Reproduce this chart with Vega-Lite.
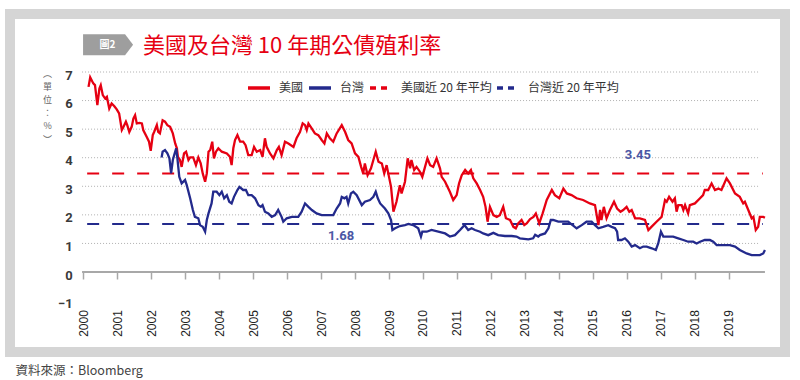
{
  "$schema": "https://vega.github.io/schema/vega-lite/v6.json",
  "width": 775,
  "height": 338,
  "autosize": {"type": "none"},
  "padding": {"left": 10, "top": 14, "right": 15, "bottom": 28},
  "background": "white",
  "config": {
    "font": "Noto Sans CJK TC",
    "view": {"fill": "white", "stroke": "#d5d5d5", "strokeWidth": 10}
  },
  "datasets": {
    "us": [
      {"year":2000.16,"rate":6.48},{"year":2000.21,"rate":6.81},{"year":2000.30,"rate":6.6},{"year":2000.35,"rate":6.54},{"year":2000.42,"rate":5.84},{"year":2000.48,"rate":6.42},{"year":2000.52,"rate":6.54},{"year":2000.58,"rate":6.19},{"year":2000.65,"rate":6.07},{"year":2000.70,"rate":6.13},{"year":2000.77,"rate":5.72},{"year":2000.84,"rate":5.9},{"year":2000.92,"rate":5.8},{"year":2000.99,"rate":5.69},{"year":2001.06,"rate":5.55},{"year":2001.14,"rate":4.97},{"year":2001.19,"rate":5.08},{"year":2001.26,"rate":5.26},{"year":2001.30,"rate":5.14},{"year":2001.36,"rate":4.9},{"year":2001.43,"rate":5.08},{"year":2001.48,"rate":5.37},{"year":2001.53,"rate":5.49},{"year":2001.58,"rate":5.2},{"year":2001.66,"rate":5.22},{"year":2001.73,"rate":5.2},{"year":2001.77,"rate":4.97},{"year":2001.87,"rate":4.73},{"year":2001.94,"rate":4.56},{"year":2001.99,"rate":4.24},{"year":2002.05,"rate":4.79},{"year":2002.09,"rate":4.9},{"year":2002.17,"rate":5.14},{"year":2002.21,"rate":4.9},{"year":2002.26,"rate":4.85},{"year":2002.34,"rate":5.31},{"year":2002.41,"rate":5.26},{"year":2002.48,"rate":5.14},{"year":2002.56,"rate":5.08},{"year":2002.64,"rate":4.85},{"year":2002.71,"rate":4.5},{"year":2002.76,"rate":4.33},{"year":2002.79,"rate":4.03},{"year":2002.85,"rate":3.92},{"year":2002.90,"rate":3.68},{"year":2002.97,"rate":4.15},{"year":2003.03,"rate":4.21},{"year":2003.10,"rate":3.92},{"year":2003.15,"rate":4.01},{"year":2003.24,"rate":4.01},{"year":2003.32,"rate":3.74},{"year":2003.39,"rate":4.01},{"year":2003.46,"rate":3.8},{"year":2003.52,"rate":3.45},{"year":2003.59,"rate":3.16},{"year":2003.64,"rate":3.45},{"year":2003.69,"rate":4.21},{"year":2003.74,"rate":4.27},{"year":2003.80,"rate":4.56},{"year":2003.85,"rate":3.98},{"year":2003.91,"rate":4.21},{"year":2003.98,"rate":4.33},{"year":2004.08,"rate":4.21},{"year":2004.23,"rate":4.15},{"year":2004.32,"rate":4.03},{"year":2004.37,"rate":3.74},{"year":2004.42,"rate":4.33},{"year":2004.47,"rate":4.62},{"year":2004.54,"rate":4.79},{"year":2004.62,"rate":4.56},{"year":2004.71,"rate":4.56},{"year":2004.78,"rate":4.44},{"year":2004.86,"rate":4.09},{"year":2004.96,"rate":4.09},{"year":2005.03,"rate":4.38},{"year":2005.11,"rate":4.21},{"year":2005.21,"rate":4.27},{"year":2005.28,"rate":4.03},{"year":2005.35,"rate":4.68},{"year":2005.40,"rate":4.38},{"year":2005.50,"rate":4.15},{"year":2005.60,"rate":3.98},{"year":2005.70,"rate":4.27},{"year":2005.76,"rate":4.38},{"year":2005.84,"rate":4.09},{"year":2005.94,"rate":4.56},{"year":2006.04,"rate":4.5},{"year":2006.19,"rate":4.38},{"year":2006.28,"rate":4.68},{"year":2006.38,"rate":4.9},{"year":2006.46,"rate":5.2},{"year":2006.53,"rate":5.14},{"year":2006.58,"rate":4.97},{"year":2006.63,"rate":5.2},{"year":2006.73,"rate":5.02},{"year":2006.82,"rate":4.85},{"year":2006.92,"rate":4.79},{"year":2007.02,"rate":4.62},{"year":2007.10,"rate":4.5},{"year":2007.17,"rate":4.85},{"year":2007.26,"rate":4.68},{"year":2007.36,"rate":4.56},{"year":2007.46,"rate":4.85},{"year":2007.61,"rate":5.14},{"year":2007.71,"rate":4.9},{"year":2007.80,"rate":4.62},{"year":2007.90,"rate":4.5},{"year":2008.00,"rate":4.15},{"year":2008.10,"rate":4.03},{"year":2008.18,"rate":3.68},{"year":2008.24,"rate":3.45},{"year":2008.29,"rate":3.8},{"year":2008.37,"rate":3.39},{"year":2008.47,"rate":3.63},{"year":2008.54,"rate":3.92},{"year":2008.61,"rate":4.21},{"year":2008.69,"rate":3.86},{"year":2008.79,"rate":3.8},{"year":2008.86,"rate":3.45},{"year":2008.93,"rate":3.74},{"year":2009.00,"rate":3.33},{"year":2009.06,"rate":2.98},{"year":2009.13,"rate":2.11},{"year":2009.22,"rate":2.46},{"year":2009.32,"rate":3.04},{"year":2009.37,"rate":2.75},{"year":2009.47,"rate":3.16},{"year":2009.55,"rate":3.98},{"year":2009.62,"rate":3.63},{"year":2009.66,"rate":3.92},{"year":2009.74,"rate":3.57},{"year":2009.81,"rate":3.68},{"year":2009.91,"rate":3.51},{"year":2009.98,"rate":3.33},{"year":2010.06,"rate":3.68},{"year":2010.13,"rate":3.98},{"year":2010.21,"rate":3.74},{"year":2010.30,"rate":3.68},{"year":2010.40,"rate":3.98},{"year":2010.50,"rate":3.63},{"year":2010.55,"rate":3.33},{"year":2010.65,"rate":3.16},{"year":2010.79,"rate":2.81},{"year":2010.89,"rate":2.52},{"year":2010.99,"rate":2.69},{"year":2011.06,"rate":3.1},{"year":2011.14,"rate":3.39},{"year":2011.24,"rate":3.57},{"year":2011.33,"rate":3.45},{"year":2011.41,"rate":3.57},{"year":2011.48,"rate":3.28},{"year":2011.58,"rate":3.1},{"year":2011.68,"rate":2.87},{"year":2011.77,"rate":2.63},{"year":2011.84,"rate":2.28},{"year":2011.90,"rate":1.76},{"year":2011.97,"rate":2.28},{"year":2012.07,"rate":1.99},{"year":2012.17,"rate":1.93},{"year":2012.26,"rate":1.99},{"year":2012.36,"rate":2.28},{"year":2012.44,"rate":1.88},{"year":2012.56,"rate":1.82},{"year":2012.66,"rate":1.58},{"year":2012.73,"rate":1.53},{"year":2012.80,"rate":1.7},{"year":2012.90,"rate":1.82},{"year":2012.98,"rate":1.64},{"year":2013.05,"rate":1.7},{"year":2013.15,"rate":1.85},{"year":2013.25,"rate":1.93},{"year":2013.32,"rate":2.05},{"year":2013.42,"rate":1.7},{"year":2013.52,"rate":2.05},{"year":2013.64,"rate":2.52},{"year":2013.79,"rate":2.87},{"year":2013.88,"rate":2.69},{"year":2014.01,"rate":2.58},{"year":2014.13,"rate":2.92},{"year":2014.23,"rate":2.75},{"year":2014.37,"rate":2.69},{"year":2014.52,"rate":2.58},{"year":2014.71,"rate":2.52},{"year":2014.91,"rate":2.4},{"year":2015.06,"rate":2.34},{"year":2015.16,"rate":1.64},{"year":2015.21,"rate":2.17},{"year":2015.25,"rate":1.82},{"year":2015.32,"rate":2.28},{"year":2015.40,"rate":1.88},{"year":2015.50,"rate":2.17},{"year":2015.62,"rate":2.46},{"year":2015.71,"rate":2.22},{"year":2015.81,"rate":2.11},{"year":2015.89,"rate":2.17},{"year":2015.99,"rate":2.28},{"year":2016.07,"rate":2.11},{"year":2016.14,"rate":2.17},{"year":2016.24,"rate":1.88},{"year":2016.38,"rate":1.88},{"year":2016.53,"rate":1.82},{"year":2016.63,"rate":1.47},{"year":2016.72,"rate":1.58},{"year":2016.87,"rate":1.76},{"year":2017.02,"rate":1.93},{"year":2017.12,"rate":2.52},{"year":2017.17,"rate":2.46},{"year":2017.24,"rate":2.63},{"year":2017.34,"rate":2.46},{"year":2017.41,"rate":2.58},{"year":2017.46,"rate":2.11},{"year":2017.51,"rate":2.34},{"year":2017.61,"rate":2.34},{"year":2017.66,"rate":2.17},{"year":2017.71,"rate":2.34},{"year":2017.80,"rate":2.05},{"year":2017.85,"rate":2.34},{"year":2018.00,"rate":2.4},{"year":2018.15,"rate":2.58},{"year":2018.24,"rate":2.69},{"year":2018.29,"rate":2.87},{"year":2018.39,"rate":2.87},{"year":2018.49,"rate":3.1},{"year":2018.59,"rate":2.87},{"year":2018.69,"rate":2.92},{"year":2018.78,"rate":2.87},{"year":2018.93,"rate":3.28},{"year":2019.03,"rate":3.1},{"year":2019.18,"rate":2.75},{"year":2019.32,"rate":2.63},{"year":2019.42,"rate":2.4},{"year":2019.47,"rate":2.46},{"year":2019.57,"rate":2.17},{"year":2019.67,"rate":1.88},{"year":2019.72,"rate":1.93},{"year":2019.79,"rate":1.47},{"year":2019.86,"rate":1.58},{"year":2019.91,"rate":1.93},{"year":2020.01,"rate":1.93},{"year":2020.06,"rate":1.9}
    ],
    "tw": [
      {"year":2002.31,"rate":4.01},{"year":2002.34,"rate":4.21},{"year":2002.41,"rate":4.27},{"year":2002.48,"rate":4.15},{"year":2002.54,"rate":3.98},{"year":2002.59,"rate":3.45},{"year":2002.64,"rate":3.92},{"year":2002.68,"rate":4.09},{"year":2002.74,"rate":4.33},{"year":2002.77,"rate":4.03},{"year":2002.83,"rate":3.33},{"year":2002.90,"rate":3.1},{"year":2003.00,"rate":3.22},{"year":2003.05,"rate":3.04},{"year":2003.15,"rate":2.58},{"year":2003.23,"rate":2.17},{"year":2003.29,"rate":1.93},{"year":2003.39,"rate":1.88},{"year":2003.44,"rate":1.64},{"year":2003.52,"rate":1.58},{"year":2003.59,"rate":1.41},{"year":2003.64,"rate":1.82},{"year":2003.69,"rate":2.05},{"year":2003.78,"rate":2.4},{"year":2003.83,"rate":2.81},{"year":2003.93,"rate":2.81},{"year":2004.01,"rate":2.69},{"year":2004.08,"rate":2.81},{"year":2004.15,"rate":2.58},{"year":2004.23,"rate":2.69},{"year":2004.30,"rate":2.46},{"year":2004.37,"rate":2.4},{"year":2004.44,"rate":2.63},{"year":2004.54,"rate":2.87},{"year":2004.60,"rate":2.98},{"year":2004.71,"rate":2.87},{"year":2004.79,"rate":2.87},{"year":2004.86,"rate":2.69},{"year":2004.96,"rate":2.69},{"year":2005.06,"rate":2.58},{"year":2005.16,"rate":2.34},{"year":2005.23,"rate":2.28},{"year":2005.28,"rate":2.34},{"year":2005.35,"rate":2.11},{"year":2005.45,"rate":2.05},{"year":2005.55,"rate":1.93},{"year":2005.65,"rate":1.99},{"year":2005.74,"rate":2.17},{"year":2005.84,"rate":1.93},{"year":2005.89,"rate":1.76},{"year":2005.99,"rate":1.88},{"year":2006.14,"rate":1.93},{"year":2006.33,"rate":1.93},{"year":2006.43,"rate":2.11},{"year":2006.53,"rate":2.4},{"year":2006.63,"rate":2.28},{"year":2006.73,"rate":2.17},{"year":2006.87,"rate":2.05},{"year":2007.02,"rate":1.99},{"year":2007.21,"rate":1.99},{"year":2007.36,"rate":1.99},{"year":2007.46,"rate":2.22},{"year":2007.56,"rate":2.4},{"year":2007.61,"rate":2.63},{"year":2007.69,"rate":2.58},{"year":2007.75,"rate":2.63},{"year":2007.80,"rate":2.4},{"year":2007.88,"rate":2.75},{"year":2007.95,"rate":2.81},{"year":2008.05,"rate":2.69},{"year":2008.20,"rate":2.34},{"year":2008.29,"rate":2.46},{"year":2008.44,"rate":2.52},{"year":2008.54,"rate":2.63},{"year":2008.61,"rate":2.81},{"year":2008.67,"rate":2.58},{"year":2008.74,"rate":2.4},{"year":2008.88,"rate":2.22},{"year":2008.98,"rate":2.05},{"year":2009.06,"rate":1.82},{"year":2009.10,"rate":1.47},{"year":2009.18,"rate":1.53},{"year":2009.32,"rate":1.61},{"year":2009.47,"rate":1.64},{"year":2009.57,"rate":1.68},{"year":2009.71,"rate":1.64},{"year":2009.86,"rate":1.53},{"year":2009.94,"rate":1.24},{"year":2009.98,"rate":1.41},{"year":2010.11,"rate":1.41},{"year":2010.25,"rate":1.47},{"year":2010.45,"rate":1.41},{"year":2010.65,"rate":1.35},{"year":2010.79,"rate":1.24},{"year":2010.94,"rate":1.29},{"year":2011.09,"rate":1.47},{"year":2011.22,"rate":1.64},{"year":2011.33,"rate":1.47},{"year":2011.43,"rate":1.53},{"year":2011.53,"rate":1.47},{"year":2011.68,"rate":1.41},{"year":2011.77,"rate":1.35},{"year":2011.92,"rate":1.29},{"year":2012.07,"rate":1.37},{"year":2012.21,"rate":1.29},{"year":2012.41,"rate":1.26},{"year":2012.61,"rate":1.26},{"year":2012.75,"rate":1.24},{"year":2012.85,"rate":1.18},{"year":2013.10,"rate":1.14},{"year":2013.24,"rate":1.18},{"year":2013.30,"rate":1.3},{"year":2013.39,"rate":1.24},{"year":2013.44,"rate":1.29},{"year":2013.59,"rate":1.35},{"year":2013.69,"rate":1.53},{"year":2013.76,"rate":1.82},{"year":2013.83,"rate":1.82},{"year":2013.98,"rate":1.76},{"year":2014.13,"rate":1.76},{"year":2014.27,"rate":1.76},{"year":2014.40,"rate":1.64},{"year":2014.52,"rate":1.53},{"year":2014.67,"rate":1.64},{"year":2014.81,"rate":1.76},{"year":2014.96,"rate":1.76},{"year":2015.06,"rate":1.64},{"year":2015.16,"rate":1.53},{"year":2015.30,"rate":1.58},{"year":2015.45,"rate":1.64},{"year":2015.55,"rate":1.58},{"year":2015.65,"rate":1.53},{"year":2015.71,"rate":1.41},{"year":2015.74,"rate":1.12},{"year":2015.84,"rate":1.12},{"year":2015.94,"rate":1.18},{"year":2016.04,"rate":1.06},{"year":2016.14,"rate":0.89},{"year":2016.24,"rate":0.94},{"year":2016.38,"rate":0.83},{"year":2016.48,"rate":0.89},{"year":2016.58,"rate":0.89},{"year":2016.73,"rate":0.83},{"year":2016.85,"rate":0.77},{"year":2016.92,"rate":1.0},{"year":2017.00,"rate":1.41},{"year":2017.07,"rate":1.24},{"year":2017.21,"rate":1.24},{"year":2017.36,"rate":1.24},{"year":2017.51,"rate":1.18},{"year":2017.66,"rate":1.12},{"year":2017.80,"rate":1.06},{"year":2017.95,"rate":1.06},{"year":2018.05,"rate":1.0},{"year":2018.15,"rate":1.06},{"year":2018.29,"rate":1.12},{"year":2018.44,"rate":1.12},{"year":2018.54,"rate":1.06},{"year":2018.64,"rate":0.94},{"year":2018.83,"rate":0.94},{"year":2019.03,"rate":0.94},{"year":2019.18,"rate":0.89},{"year":2019.32,"rate":0.77},{"year":2019.52,"rate":0.65},{"year":2019.67,"rate":0.59},{"year":2019.81,"rate":0.59},{"year":2019.91,"rate":0.59},{"year":2020.01,"rate":0.65},{"year":2020.06,"rate":0.77}
    ],
    "usAvg": [{"year":2000.12,"rate":3.45},{"year":2020.0,"rate":3.45}],
    "twAvg": [{"year":2000.12,"rate":1.68},{"year":2020.0,"rate":1.68}],
    "levels": [{"level":1},{"level":2},{"level":3},{"level":4},{"level":5},{"level":6},{"level":7}],
    "one": [{}]
  },
  "resolve": {"axis": {"x": "independent", "y": "independent"}},
  "layer": [
    {
      "data": {"name": "levels"},
      "mark": {"type": "rule", "color": "#b0b0b0", "strokeWidth": 1, "strokeDash": [1, 2]},
      "encoding": {
        "y": {"field": "level", "type": "quantitative", "scale": {"domain": [-2.8, 9.03], "nice": false, "zero": false},
          "axis": {"orient": "left", "offset": -73.1, "values": [-1,0,1,2,3,4,5,6,7], "domain": false, "ticks": false, "grid": false, "zindex": 2,
            "labelPadding": 11, "labelOffset": 3, "labelFont": "Roboto", "labelFontSize": 13, "labelFontWeight": "bold", "labelColor": "#3a3a3a", "labelFlush": false, "labelOverlap": false,
            "title": ["︵", "單", "位", "：", "%", "︶"], "titleAngle": 0, "titleX": -36, "titleY": 55, "titleAlign": "center", "titleBaseline": "top",
            "titleFont": "Noto Sans CJK TC", "titleFontSize": 9, "titleFontWeight": "normal", "titleColor": "#666", "titleLineHeight": 13.2}},
        "x": {"datum": 1999.97, "type": "quantitative", "scale": {"domain": [1997.85, 2020.65], "nice": false, "zero": false}, "axis": null},
        "x2": {"datum": 2019.91}
      }
    },
    {
      "data": {"name": "one"},
      "mark": {"type": "rule", "color": "#a8a8a8", "strokeWidth": 1.8},
      "encoding": {
        "y": {"datum": 0, "type": "quantitative", "axis": null},
        "x": {"datum": 1999.97, "type": "quantitative", "axis": null},
        "x2": {"datum": 2020.06}
      }
    },
    {
      "data": {"name": "usAvg"},
      "mark": {"type": "line", "strokeWidth": 2, "strokeDash": [12, 13]},
      "encoding": {
        "x": {"field": "year", "type": "quantitative",
          "axis": {"orient": "bottom", "offset": -80, "values": [2000,2001,2002,2003,2004,2005,2006,2007,2008,2009,2010,2011,2012,2013,2014,2015,2016,2017,2018,2019],
            "labels": false, "domain": false, "ticks": true, "tickSize": 7, "tickColor": "#a8a8a8", "tickWidth": 1.5, "grid": false, "title": null}},
        "y": {"field": "rate", "type": "quantitative", "axis": null},
        "color": {"datum": "美國近 20 年平均", "type": "nominal",
          "scale": {"domain": ["美國", "台灣", "美國近 20 年平均", "台灣近 20 年平均"], "range": ["#e60012", "#232a8c", "#e60012", "#232a8c"]}}
      }
    },
    {
      "data": {"name": "twAvg"},
      "mark": {"type": "line", "strokeWidth": 2, "strokeDash": [12, 13]},
      "encoding": {
        "x": {"field": "year", "type": "quantitative", "axis": null},
        "y": {"field": "rate", "type": "quantitative", "axis": null},
        "color": {"datum": "台灣近 20 年平均", "type": "nominal",
          "scale": {"domain": ["美國", "台灣", "美國近 20 年平均", "台灣近 20 年平均"], "range": ["#e60012", "#232a8c", "#e60012", "#232a8c"]}}
      }
    },
    {
      "data": {"name": "us"},
      "mark": {"type": "line", "strokeWidth": 2.3},
      "encoding": {
        "x": {"field": "year", "type": "quantitative",
          "axis": {"orient": "bottom", "offset": -51.4, "values": [2000,2001,2002,2003,2004,2005,2006,2007,2008,2009,2010,2011,2012,2013,2014,2015,2016,2017,2018,2019],
            "format": "d", "labelAngle": -90, "labelAlign": "right", "labelBaseline": "middle", "labelPadding": 9,
            "labelFont": "Liberation Sans", "labelFontSize": 12, "labelColor": "#222", "labelFlush": false, "labelOverlap": false,
            "domain": false, "ticks": false, "grid": false,
            "title": "資料來源：Bloomberg", "titleX": 5, "titleY": 74, "titleAlign": "left", "titleAnchor": "start", "titleBaseline": "alphabetic",
            "titleFont": "Noto Sans CJK TC", "titleFontSize": 12.5, "titleFontWeight": "normal", "titleColor": "#444"}},
        "y": {"field": "rate", "type": "quantitative", "axis": null},
        "color": {"datum": "美國", "type": "nominal",
          "scale": {"domain": ["美國", "台灣", "美國近 20 年平均", "台灣近 20 年平均"], "range": ["#e60012", "#232a8c", "#e60012", "#232a8c"]},
          "legend": {"title": null, "orient": "none", "legendX": 236, "legendY": 61, "direction": "horizontal",
            "symbolType": "stroke", "symbolSize": 484, "symbolStrokeWidth": 3.5,
            "labelFont": "Noto Sans CJK TC", "labelFontSize": 12, "labelColor": "#333", "labelOffset": 7, "columnPadding": -2, "padding": 0,
            "encode": {"symbols": {"update": {"strokeDash": {"signal": "indexof(datum.value, '平均') >= 0 ? [6,5] : [1,0]"}}}}}}
      }
    },
    {
      "data": {"name": "tw"},
      "mark": {"type": "line", "strokeWidth": 2.3},
      "encoding": {
        "x": {"field": "year", "type": "quantitative", "axis": null},
        "y": {"field": "rate", "type": "quantitative", "axis": null},
        "color": {"datum": "台灣", "type": "nominal",
          "scale": {"domain": ["美國", "台灣", "美國近 20 年平均", "台灣近 20 年平均"], "range": ["#e60012", "#232a8c", "#e60012", "#232a8c"]}}
      }
    },
    {
      "data": {"name": "one"},
      "mark": {"type": "text", "text": "3.45", "font": "Roboto", "fontSize": 13, "fontWeight": "bold", "color": "#4b57a5", "align": "center", "baseline": "middle"},
      "encoding": {
        "x": {"datum": 2016.32, "type": "quantitative", "axis": null},
        "y": {"datum": 4.09, "type": "quantitative", "axis": null}
      }
    },
    {
      "data": {"name": "one"},
      "mark": {"type": "text", "text": "1.68", "font": "Roboto", "fontSize": 13, "fontWeight": "bold", "color": "#4b57a5", "align": "center", "baseline": "middle"},
      "encoding": {
        "x": {"datum": 2007.59, "type": "quantitative", "axis": null},
        "y": {"datum": 1.26, "type": "quantitative", "axis": null}
      }
    },
    {
      "data": {"name": "one"},
      "mark": {"type": "point", "shape": "M-1,-0.42L0.68,-0.42L1,0L0.68,0.42L-1,0.42Z", "size": 2500, "filled": true, "color": "#9e9e9e", "opacity": 1, "strokeWidth": 0},
      "encoding": {
        "x": {"datum": 2000.735, "type": "quantitative", "axis": null},
        "y": {"datum": 7.955, "type": "quantitative", "axis": null}
      }
    },
    {
      "data": {"name": "one"},
      "mark": {"type": "text", "text": "圖2", "fontSize": 10, "fontWeight": "bold", "color": "white", "align": "center", "baseline": "middle"},
      "encoding": {
        "x": {"datum": 2000.72, "type": "quantitative", "axis": null},
        "y": {"datum": 7.955, "type": "quantitative", "axis": null}
      }
    },
    {
      "data": {"name": "one"},
      "mark": {"type": "text", "text": "美國及台灣 10 年期公債殖利率", "font": "Noto Sans CJK TC", "fontSize": 22, "color": "#e60012", "align": "left", "baseline": "alphabetic"},
      "encoding": {
        "x": {"datum": 2001.76, "type": "quantitative", "axis": null},
        "y": {"datum": 7.66, "type": "quantitative", "axis": null}
      }
    }
  ]
}
